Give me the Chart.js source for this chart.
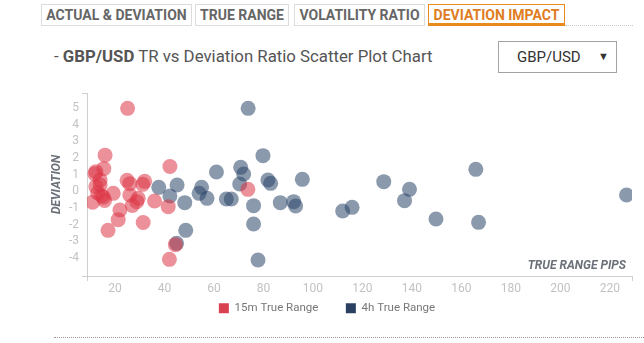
<!DOCTYPE html>
<html>
<head>
<meta charset="utf-8">
<script src="https://cdn.jsdelivr.net/npm/chart.js@4/dist/chart.umd.min.js"></script>
<style>
  html, body { margin: 0; padding: 0; }
  body { width: 644px; height: 343px; overflow: hidden; position: relative; background: #fff; font-family: Roboto, "Open Sans", sans-serif; }
  .tab { position: absolute; top: 4px; height: 20px; line-height: 20px; border: 1px solid #dcdcdc; font-size: 14px; font-weight: 700; color: #666; text-align: center; white-space: nowrap; box-sizing: content-box; }
  .tab.active { border-color: #e98a1d; border-bottom: 3px solid #e98a1d; height: 18px; line-height: 20px; color: #e07c22; }
  .tabline { position: absolute; left: 565px; top: 25px; width: 68px; border-top: 1px dotted #c8c8c8; }
  .title { position: absolute; left: 54px; top: 45px; font-size: 16.8px; color: #555; white-space: nowrap; line-height: 22px; }
  .title b { font-weight: 700; color: #555; }
  .select { position: absolute; left: 498px; top: 41px; width: 117px; height: 30px; border: 1px solid #a3a3a3; font-size: 15px; color: #333; line-height: 30px; }
  .select .val { position: absolute; left: 18px; }
  .select .arr { position: absolute; right: 7px; font-size: 11px; color: #333; }
  #wrap { position: absolute; left: 4px; top: 80px; width: 640px; height: 265px; }
  .rule { position: absolute; left: 54px; right: 0; top: 337px; border-top: 1px dotted #9a9a9a; }
</style>
</head>
<body>
<div class="tab" style="left:41px;width:149px;">ACTUAL &amp; DEVIATION</div>
<div class="tab" style="left:195px;width:92px;">TRUE RANGE</div>
<div class="tab" style="left:294px;width:129px;">VOLATILITY RATIO</div>
<div class="tab active" style="left:428px;width:135px;">DEVIATION IMPACT</div>
<div class="tabline"></div>
<div class="title">- <b>GBP/USD</b> TR vs Deviation Ratio Scatter Plot Chart</div>
<div class="select"><span class="val">GBP/USD</span><span class="arr">&#9660;</span></div>
<div id="wrap"><canvas id="c" width="640" height="265"></canvas></div>
<div class="rule"></div>

<script>
// 15-minute true range (pips) vs deviation ratio
const tr15mX = [25.1, 16.0, 42.2, 12.3, 15.5, 11.9, 14.0, 24.9, 26.0, 32.0, 31.2, 12.3, 14.0, 19.3,
                11.0, 15.8, 15.3, 26.0, 29.4, 28.8, 27.0, 36.0, 41.5, 22.0, 21.3, 31.4, 17.2, 44.4,
                42.0, 73.7, 13.0, 14.5];
const tr15mY = [4.98, 2.17, 1.49, 1.18, 1.36, 1.05, 0.68, 0.66, 0.46, 0.60, 0.42, 0.28, 0.38, -0.12,
                -0.65, -0.55, -0.35, -0.22, -0.42, -0.62, -0.85, -0.58, -0.92, -1.12, -1.70, -1.87, -2.34, -3.20,
                -4.08, 0.12, -0.10, -0.25];

// 4-hour true range (pips) vs deviation ratio
const tr4hX = [73.8, 79.8, 61.0, 70.8, 72.0, 70.4, 55.0, 54.0, 57.2, 48.2, 65.0, 67.0, 81.8, 82.9,
               95.7, 76.0, 86.8, 92.2, 93.0, 76.0, 48.6, 44.9, 77.8, 37.7, 45.1, 42.2, 128.6, 139.0,
               137.0, 115.8, 112.0, 149.7, 165.8, 166.9, 226.7];
const tr4hY = [4.98, 2.14, 1.16, 1.44, 1.04, 0.44, 0.24, -0.12, -0.42, -0.68, -0.46, -0.46, 0.68, 0.48,
               0.72, -0.86, -0.68, -0.62, -0.88, -1.96, -2.34, -3.12, -4.12, 0.24, 0.38, -0.28, 0.58, 0.12,
               -0.56, -0.96, -1.18, -1.66, 1.32, -1.86, -0.22];

const xTickLabels = [20, 40, 60, 80, 100, 120, 140, 160, 180, 200, 220];
const yTickLabels = [-4, -3, -2, -1, 0, 1, 2, 3, 4, 5];

const seriesNames = ['15m True Range', '4h True Range'];
const seriesColors = ['rgb(217, 64, 80)', 'rgb(41, 64, 99)'];
const seriesFills = ['rgba(220, 53, 69, 0.55)', 'rgba(44, 69, 105, 0.55)'];

const xBounds = [8.7, 228.9];
const yBounds = [-5.08, 5.9];

const toPoints = (xs, ys) => xs.map((x, i) => ({ x: x, y: ys[i] }));

const tickFont = { family: 'Roboto', size: 12 };
const tickColor = '#c2c2c2';
const axisColor = '#cfcfcf';

// only the two end ticks get a short tick mark
const endTickColor = (ctx) => {
  const n = ctx.scale.ticks.length;
  return (ctx.index === 0 || ctx.index === n - 1) ? axisColor : 'rgba(0,0,0,0)';
};

// axis caption sits inside the plot, at the lower right corner
const cornerTitle = {
  id: 'cornerTitle',
  afterDraw(chart) {
    const { ctx, chartArea } = chart;
    ctx.save();
    ctx.font = 'italic bold 12px Roboto';
    ctx.fillStyle = '#6b7079';
    ctx.textAlign = 'right';
    ctx.textBaseline = 'alphabetic';
    ctx.fillText('TRUE RANGE PIPS', chartArea.right - 6, chartArea.bottom - 7);
    ctx.restore();
  }
};

// pull the legend up closer to the tick labels
const legendLift = {
  id: 'legendLift',
  afterLayout(chart) {
    const lg = chart.legend;
    if (lg) { lg.top -= 21; lg.bottom -= 21; }
  }
};

new Chart(document.getElementById('c'), {
  type: 'scatter',
  data: {
    datasets: [
      {
        label: seriesNames[0],
        data: toPoints(tr15mX, tr15mY),
        backgroundColor: seriesFills[0],
        borderColor: seriesFills[0],
        borderWidth: 0,
        pointRadius: 7.5,
        pointHoverRadius: 7.5
      },
      {
        label: seriesNames[1],
        data: toPoints(tr4hX, tr4hY),
        backgroundColor: seriesFills[1],
        borderColor: seriesFills[1],
        borderWidth: 0,
        pointRadius: 7.5,
        pointHoverRadius: 7.5
      }
    ]
  },
  options: {
    responsive: false,
    animation: false,
    clip: 0,
    layout: { padding: { top: 13, right: 12, left: 18, bottom: 0 } },
    scales: {
      x: {
        type: 'linear',
        min: xBounds[0],
        max: xBounds[1],
        afterBuildTicks: (scale) => {
          scale.ticks = [xBounds[0], ...xTickLabels, xBounds[1]].map(v => ({ value: v }));
        },
        afterFit: (scale) => { scale.height = 20; },
        ticks: {
          autoSkip: false,
          maxRotation: 0,
          padding: 1,
          color: tickColor,
          font: tickFont,
          callback: (v) => xTickLabels.includes(v) ? String(v) : ''
        },
        grid: { drawOnChartArea: false, tickLength: 5, color: endTickColor },
        border: { display: true, color: axisColor, width: 1 }
      },
      y: {
        type: 'linear',
        min: yBounds[0],
        max: yBounds[1],
        afterBuildTicks: (scale) => {
          scale.ticks = [yBounds[0], ...yTickLabels, yBounds[1]].map(v => ({ value: v }));
        },
        afterFit: (scale) => { scale.width = 65; },
        ticks: {
          autoSkip: false,
          padding: 3,
          color: tickColor,
          font: tickFont,
          callback: (v) => yTickLabels.includes(v) ? String(v) : ''
        },
        grid: { drawOnChartArea: false, tickLength: 5, color: endTickColor },
        border: { display: true, color: axisColor, width: 1 },
        title: {
          display: true,
          text: 'DEVIATION',
          color: '#6b7079',
          font: { family: 'Roboto', size: 12, style: 'italic', weight: 'bold' },
          padding: { top: 28, bottom: 0 }
        }
      }
    },
    plugins: {
      legend: {
        position: 'bottom',
        labels: {
          boxWidth: 10,
          boxHeight: 10,
          padding: 27.5,
          color: '#777',
          font: { family: 'Roboto', size: 11.5 },
          generateLabels: (chart) => chart.data.datasets.map((ds, i) => ({
            text: ds.label,
            fillStyle: seriesColors[i],
            strokeStyle: seriesColors[i],
            lineWidth: 0,
            fontColor: '#777',
            hidden: false,
            datasetIndex: i
          }))
        }
      },
      tooltip: { enabled: false }
    }
  },
  plugins: [cornerTitle, legendLift]
});
</script>
</body>
</html>
